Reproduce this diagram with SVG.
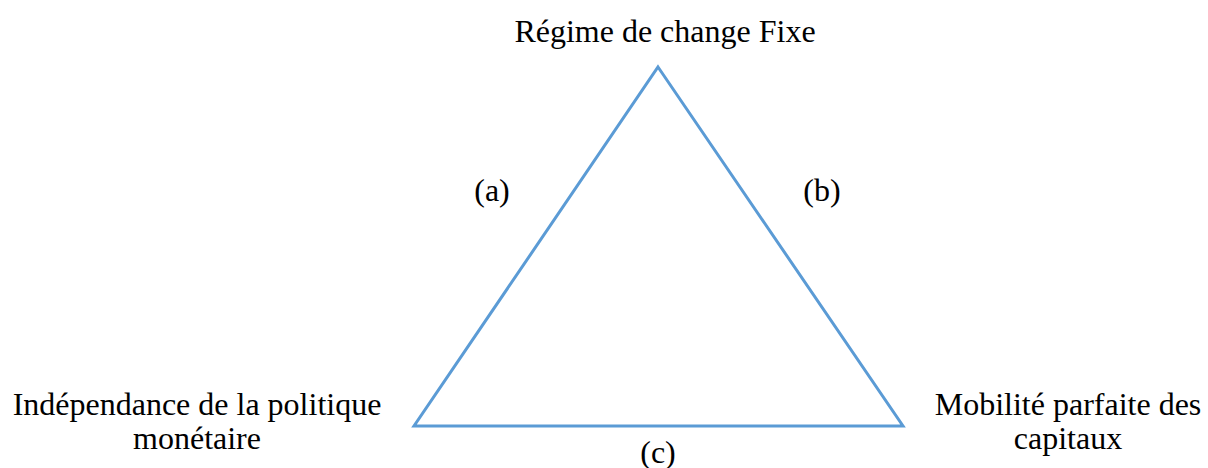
<svg xmlns="http://www.w3.org/2000/svg" width="1208" height="468" viewBox="0 0 1208 468">
<style>
text{font-family:"Liberation Serif","Times New Roman",serif;font-size:32px;fill:#000;text-anchor:middle}
.edge{fill:none;stroke:#5B9BD5;stroke-width:3;stroke-linejoin:miter}
</style>
<rect width="1208" height="468" fill="#fff"/>
<g id="connectors">
<polygon class="edge" points="658,67 903,426 414,426"/>
</g>
<g id="node-top"><text x="665" y="42">Régime de change Fixe</text></g>
<g id="node-left"><text x="197" y="415">Indépendance de la politique</text><text x="197" y="449">monétaire</text></g>
<g id="node-right"><text x="1068" y="415">Mobilité parfaite des</text><text x="1068" y="449">capitaux</text></g>
<g id="label-a"><text x="492" y="201">(a)</text></g>
<g id="label-b"><text x="822" y="201">(b)</text></g>
<g id="label-c"><text x="658" y="463">(c)</text></g>
</svg>
